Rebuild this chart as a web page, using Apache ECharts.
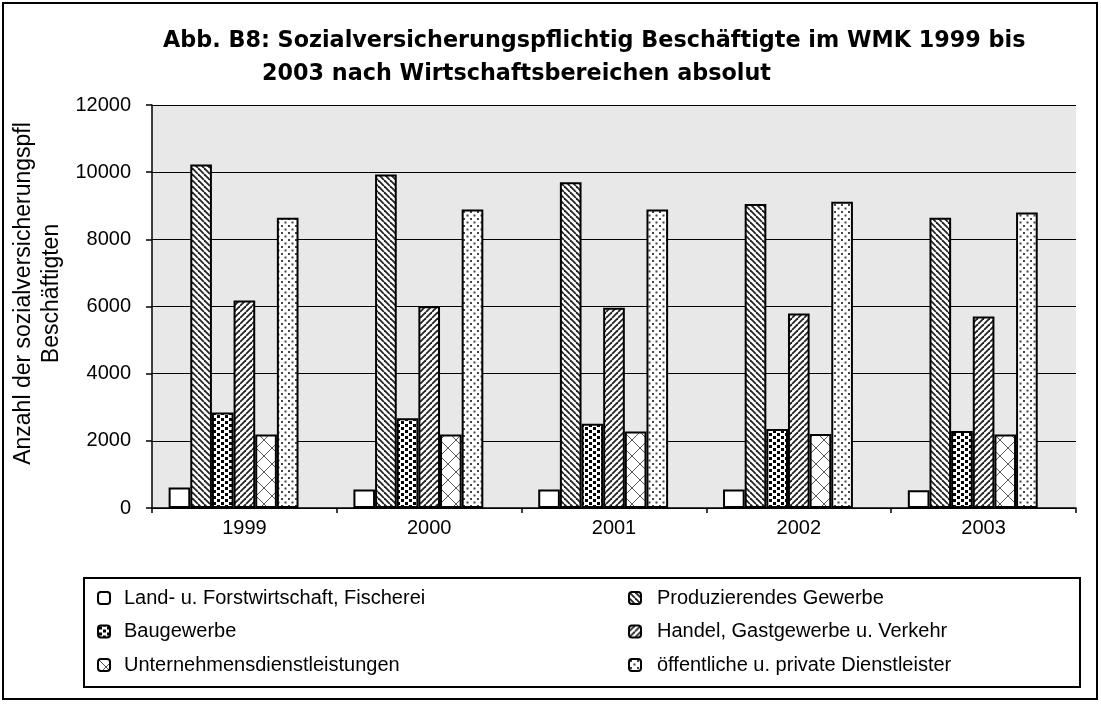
<!DOCTYPE html>
<html>
<head>
<meta charset="utf-8">
<script src="https://cdn.jsdelivr.net/npm/echarts@6/dist/echarts.min.js"></script>
<style>
html, body { margin: 0; padding: 0; background: #fff; }
#main { width: 1101px; height: 704px; }
</style>
</head>
<body>
<div id="main"></div>
<script>
var jahre = ['1999', '2000', '2001', '2002', '2003'];
var landForst = [610, 550, 550, 550, 530];
var produzierend = [10230, 9930, 9700, 9050, 8640];
var baugewerbe = [2840, 2670, 2510, 2350, 2290];
var handel = [6180, 6010, 5960, 5790, 5700];
var unternehmen = [2190, 2190, 2280, 2200, 2190];
var oeffentlich = [8640, 8890, 8890, 9120, 8800];
// Excel reserved a seventh (empty) slot in each group
var leer = [null, null, null, null, null];
var yTicks = [0, 2000, 4000, 6000, 8000, 10000, 12000];

var FONT = '"Liberation Sans", Arial, sans-serif';
var TITLEFONT = '"DejaVu Sans", "Liberation Sans", sans-serif';

function pattern(kind) {
  var c = document.createElement('canvas');
  var ctx = c.getContext('2d');
  var s;
  if (kind === 'down' || kind === 'up') {
    s = 6;
    c.width = s; c.height = s;
    ctx.fillStyle = '#fff';
    ctx.fillRect(0, 0, s, s);
    ctx.strokeStyle = '#222';
    ctx.lineWidth = 1.8;
    for (var k = -1; k <= 1; k++) {
      ctx.beginPath();
      if (kind === 'down') {
        ctx.moveTo(k * s, 0); ctx.lineTo(k * s + s, s);
      } else {
        ctx.moveTo(k * s, s); ctx.lineTo(k * s + s, 0);
      }
      ctx.stroke();
    }
  } else if (kind === 'squares') {
    c.width = 8; c.height = 6;
    ctx.fillStyle = '#fff';
    ctx.fillRect(0, 0, 8, 6);
    ctx.fillStyle = '#000';
    ctx.fillRect(1, 1, 3, 3);
    ctx.fillRect(5, 4, 3, 2);
    ctx.fillRect(5, 0, 3, 1);
  } else if (kind === 'cross') {
    s = 16;
    c.width = s; c.height = s;
    ctx.fillStyle = '#fff';
    ctx.fillRect(0, 0, s, s);
    ctx.strokeStyle = '#555';
    ctx.lineWidth = 1;
    ctx.beginPath();
    ctx.moveTo(0, 0); ctx.lineTo(s, s);
    ctx.moveTo(0, s); ctx.lineTo(s, 0);
    ctx.stroke();
  } else if (kind === 'dots') {
    c.width = 7; c.height = 7;
    ctx.fillStyle = '#fff';
    ctx.fillRect(0, 0, 7, 7);
    ctx.fillStyle = '#444';
    ctx.fillRect(1, 1, 2, 2);
    ctx.fillRect(4.5, 4.5, 2, 2);
  }
  return { image: c, repeat: 'repeat' };
}

function bar(name, data, fill) {
  return {
    name: name,
    type: 'bar',
    data: data,
    barGap: '0%',
    barCategoryGap: '18%',
    itemStyle: { color: fill, borderColor: '#000', borderWidth: 2 },
    emphasis: { disabled: true }
  };
}

var legendText = { fontFamily: FONT, fontSize: 20, color: '#000' };

var chart = echarts.init(document.getElementById('main'));
chart.setOption({
  animation: false,
  backgroundColor: '#fff',
  title: [{
    text: 'Abb. B8: Sozialversicherungspflichtig Beschäftigte im WMK 1999 bis',
    left: 158, top: 25,
    textStyle: { fontFamily: TITLEFONT, fontSize: 22.3, fontWeight: 'bold', color: '#000' }
  }, {
    text: '2003 nach Wirtschaftsbereichen absolut',
    left: 257, top: 58,
    textStyle: { fontFamily: TITLEFONT, fontSize: 22.3, fontWeight: 'bold', color: '#000' }
  }],
  legend: [{
    data: ['Land- u. Forstwirtschaft, Fischerei', 'Baugewerbe', 'Unternehmensdienstleistungen'],
    orient: 'vertical',
    left: 92, top: 583,
    itemWidth: 12, itemHeight: 12, itemGap: 13.5,
    selectedMode: false,
    textStyle: Object.assign({ padding: [0, 0, 0, 9] }, legendText)
  }, {
    data: ['Produzierendes Gewerbe', 'Handel, Gastgewerbe u. Verkehr', 'öffentliche u. private Dienstleister'],
    orient: 'vertical',
    left: 623, top: 583,
    itemWidth: 12, itemHeight: 12, itemGap: 13.5,
    selectedMode: false,
    textStyle: Object.assign({ padding: [0, 0, 0, 11] }, legendText)
  }],
  grid: {
    left: 152, right: 25, top: 105, bottom: 196,
    outerBoundsMode: 'none',
    containLabel: false,
    show: true, backgroundColor: '#e8e8e8', borderWidth: 0
  },
  xAxis: {
    type: 'category',
    data: jahre,
    axisLine: { lineStyle: { color: '#000', width: 1.5 } },
    axisTick: { show: true, alignWithLabel: false, length: 5, lineStyle: { color: '#000', width: 1.5 } },
    axisLabel: { fontFamily: FONT, fontSize: 20, color: '#000', margin: 10 }
  },
  yAxis: {
    type: 'value',
    min: yTicks[0],
    max: yTicks[yTicks.length - 1],
    interval: yTicks[1] - yTicks[0],
    name: 'Anzahl der sozialversicherungspfl\nBeschäftigten',
    nameLocation: 'middle',
    nameRotate: 90,
    nameGap: 86,
    nameMoveOverlap: false,
    nameTextStyle: { fontFamily: FONT, fontSize: 23, color: '#000', lineHeight: 28, padding: [0, 0, 0, 26] },
    axisLine: { show: true, lineStyle: { color: '#000', width: 1.5 } },
    axisTick: { show: true, inside: false, length: 6, lineStyle: { color: '#000', width: 1.5 } },
    axisLabel: {
      fontFamily: FONT, fontSize: 20, color: '#000', margin: 21,
      formatter: function (v) { return String(v); }
    },
    splitLine: { show: true, lineStyle: { color: '#000', width: 1 } }
  },
  graphic: [{
    type: 'rect',
    shape: { x: 3, y: 3, width: 1094, height: 696 },
    style: { fill: 'none', stroke: '#000', lineWidth: 2 },
    silent: true
  }, {
    type: 'rect',
    shape: { x: 84, y: 578, width: 996, height: 109 },
    style: { fill: 'none', stroke: '#000', lineWidth: 2 },
    silent: true
  }],
  series: [
    bar('Land- u. Forstwirtschaft, Fischerei', landForst, '#fff'),
    bar('Produzierendes Gewerbe', produzierend, pattern('down')),
    bar('Baugewerbe', baugewerbe, pattern('squares')),
    bar('Handel, Gastgewerbe u. Verkehr', handel, pattern('up')),
    bar('Unternehmensdienstleistungen', unternehmen, pattern('cross')),
    bar('öffentliche u. private Dienstleister', oeffentlich, pattern('dots')),
    bar('', leer, '#fff')
  ]
});
</script>
</body>
</html>
